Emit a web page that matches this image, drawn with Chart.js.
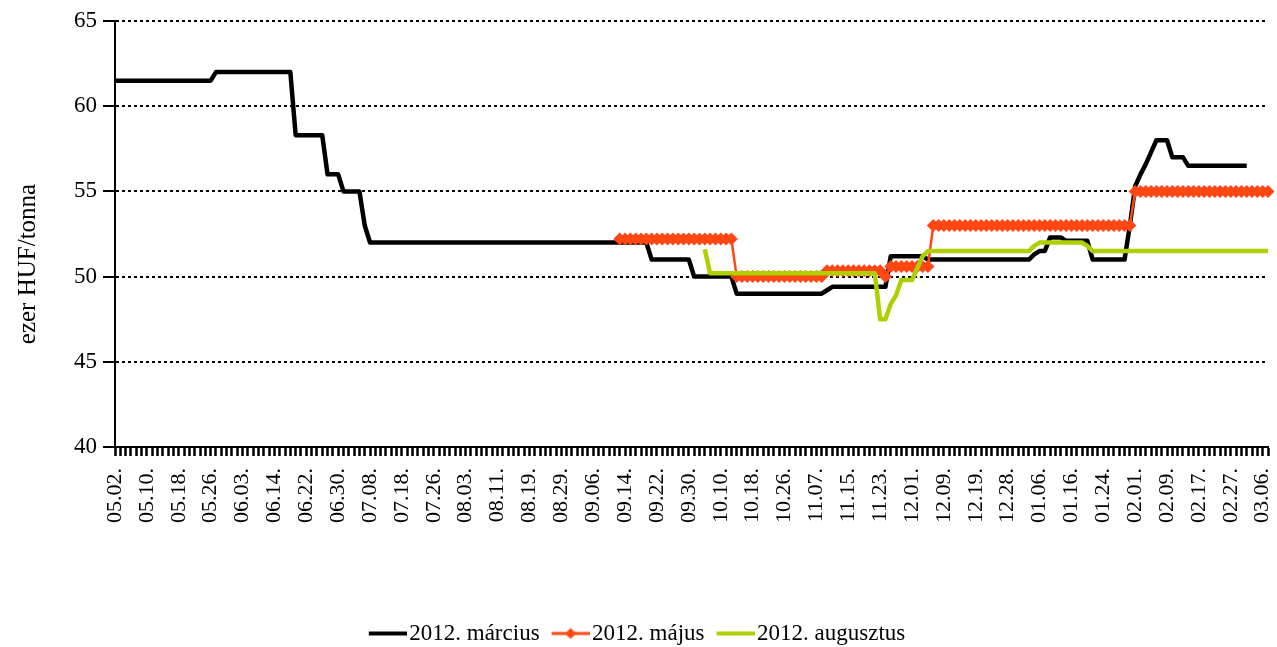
<!DOCTYPE html>
<html><head><meta charset="utf-8">
<script src="https://cdn.jsdelivr.net/npm/chart.js@4.4.0/dist/chart.umd.min.js"></script>
<style>html,body{margin:0;padding:0;background:#fff}#wrap{width:1277px;height:647px}</style>
</head><body><div id="wrap"><canvas id="c" width="1277" height="647"></canvas></div>
<script>
const tickLabels = ['05.02.','05.10.','05.18.','05.26.','06.03.','06.14.','06.22.','06.30.','07.08.','07.18.',
  '07.26.','08.03.','08.11.','08.19.','08.29.','09.06.','09.14.','09.22.','09.30.','10.10.',
  '10.18.','10.26.','11.07.','11.15.','11.23.','12.01.','12.09.','12.19.','12.28.','01.06.',
  '01.16.','01.24.','02.01.','02.09.','02.17.','02.27.','03.06.'];
const labelStep = 6;
const categoryCount = 218;
const seriesNames = ['2012. március', '2012. május', '2012. augusztus'];
const yAxisTitle = 'ezer HUF/tonna';

const marcius = [
  61.5,61.5,61.5,61.5,61.5,61.5,61.5,61.5,61.5,61.5,
  61.5,61.5,61.5,61.5,61.5,61.5,61.5,61.5,61.5,
  62,62,62,62,62,62,62,62,62,62,62,62,62,62,62,
  58.3,58.3,58.3,58.3,58.3,58.3,
  56,56,56,
  55,55,55,55,
  53,
  52,52,52,52,52,52,52,52,52,52,
  52,52,52,52,52,52,52,52,52,52,
  52,52,52,52,52,52,52,52,52,52,
  52,52,52,52,52,52,52,52,52,52,
  52,52,52,52,52,52,52,52,52,52,
  52,52,52,
  51,51,51,51,51,51,51,51,
  50,50,50,50,50,50,50,50,
  49,49,49,49,49,49,49,49,49,49,49,49,49,49,49,49,49,
  49.2,
  49.4,49.4,49.4,49.4,49.4,49.4,49.4,49.4,49.4,49.4,49.4,
  51.2,51.2,51.2,51.2,51.2,51.2,51.2,
  51,51,51,51,51,51,51,51,51,51,51,51,51,51,51,51,51,51,51,51,
  51.3,
  51.5,51.5,
  52.3,52.3,52.3,
  52.1,52.1,52.1,52.1,52.1,
  51,51,51,51,51,51,51,
  53,55.3,56,56.6,57.3,
  58,58,58,
  57,57,57,
  56.5,56.5,56.5,56.5,56.5,56.5,56.5,56.5,56.5,56.5,56.5,56.5,
  null,null,null,null
];

const majus = [
  null,null,null,null,null,null,null,null,null,null,
  null,null,null,null,null,null,null,null,null,null,
  null,null,null,null,null,null,null,null,null,null,
  null,null,null,null,null,null,null,null,null,null,
  null,null,null,null,null,null,null,null,null,null,
  null,null,null,null,null,null,null,null,null,null,
  null,null,null,null,null,null,null,null,null,null,
  null,null,null,null,null,null,null,null,null,null,
  null,null,null,null,null,null,null,null,null,null,
  null,null,null,null,null,
  52.2,52.2,52.2,52.2,52.2,52.2,52.2,52.2,52.2,52.2,52.2,
  52.2,52.2,52.2,52.2,52.2,52.2,52.2,52.2,52.2,52.2,52.2,
  50,50,50,50,50,50,50,50,50,50,50,50,50,50,50,50,50,
  50.35,50.35,50.35,50.35,50.35,50.35,50.35,50.35,50.35,50.35,50.35,
  50,
  50.6,50.6,50.6,50.6,50.6,50.6,50.6,50.6,
  53,53,53,53,53,53,53,53,53,53,
  53,53,53,53,53,53,53,53,53,53,
  53,53,53,53,53,53,53,53,53,53,
  53,53,53,53,53,53,53,53,
  55,55,55,55,55,55,55,55,55,55,
  55,55,55,55,55,55,55,55,55,55,
  55,55,55,55,55,55
];

const augusztus = [
  null,null,null,null,null,null,null,null,null,null,
  null,null,null,null,null,null,null,null,null,null,
  null,null,null,null,null,null,null,null,null,null,
  null,null,null,null,null,null,null,null,null,null,
  null,null,null,null,null,null,null,null,null,null,
  null,null,null,null,null,null,null,null,null,null,
  null,null,null,null,null,null,null,null,null,null,
  null,null,null,null,null,null,null,null,null,null,
  null,null,null,null,null,null,null,null,null,null,
  null,null,null,null,null,null,null,null,null,null,
  null,null,null,null,null,null,null,null,null,null,
  null,
  51.6,
  50.2,50.2,50.2,50.2,50.2,50.2,50.2,50.2,50.2,50.2,
  50.2,50.2,50.2,50.2,50.2,50.2,50.2,50.2,50.2,50.2,
  50.2,50.2,50.2,50.2,50.2,50.2,50.2,50.2,50.2,50.2,
  50.2,50.2,
  47.5,47.5,
  48.4,
  48.9,
  49.8,49.8,49.8,
  50.5,
  51.2,
  51.5,51.5,51.5,51.5,51.5,51.5,51.5,51.5,51.5,51.5,
  51.5,51.5,51.5,51.5,51.5,51.5,51.5,51.5,51.5,51.5,
  51.8,
  52,52,52,52,52,52,52,52,52,
  51.8,
  51.5,51.5,51.5,51.5,51.5,51.5,51.5,51.5,51.5,51.5,
  51.5,51.5,51.5,51.5,51.5,51.5,51.5,51.5,51.5,51.5,
  51.5,51.5,51.5,51.5,51.5,51.5,51.5,51.5,51.5,51.5,
  51.5,51.5,51.5,51.5
];

[marcius, majus, augusztus].forEach((a, k) => {
  if (a.length !== categoryCount) throw new Error('series ' + k + ' length ' + a.length);
});

const categories = [];
for (let i = 0; i < categoryCount; i++) {
  categories.push(i % labelStep === 0 ? (tickLabels[i / labelStep] || '') : '');
}

const COL_BLACK = '#000000';
const COL_ORANGE = '#FF4713';
const COL_GREEN = '#AFCF00';
const FONT = '"Liberation Serif", "Times New Roman", serif';

function legendSample(color, withDiamond) {
  const cv = document.createElement('canvas');
  cv.width = 53; cv.height = 16;
  const g = cv.getContext('2d');
  g.strokeStyle = color;
  g.lineWidth = withDiamond ? 3 : 4;
  g.beginPath(); g.moveTo(15, 8); g.lineTo(53, 8); g.stroke();
  if (withDiamond) {
    g.fillStyle = color;
    g.beginPath(); g.moveTo(34, 2.5); g.lineTo(39.5, 8); g.lineTo(34, 13.5); g.lineTo(28.5, 8); g.closePath(); g.fill();
  }
  return cv;
}
const legendImages = [legendSample(COL_BLACK, false), legendSample(COL_ORANGE, true), legendSample(COL_GREEN, false)];

const yTitlePlugin = {
  id: 'yTitlePlugin',
  afterDraw(chart) {
    const ctx = chart.ctx;
    ctx.save();
    ctx.translate(28, 264);
    ctx.rotate(-Math.PI / 2);
    ctx.font = '25px ' + FONT;
    ctx.fillStyle = '#000';
    ctx.textAlign = 'center';
    ctx.textBaseline = 'middle';
    ctx.fillText(yAxisTitle, 0, 0);
    ctx.restore();
  }
};

const legendShiftPlugin = {
  id: 'legendShiftPlugin',
  afterLayout(chart) {
    if (chart.legend) { chart.legend.top += 8; chart.legend.bottom += 8; }
  }
};

new Chart(document.getElementById('c'), {
  type: 'line',
  data: {
    labels: categories,
    datasets: [
      { label: seriesNames[0], data: marcius, borderColor: COL_BLACK, backgroundColor: COL_BLACK,
        borderWidth: 4.5, pointRadius: 0, tension: 0, order: 3, borderJoinStyle: 'round' },
      { label: seriesNames[1], data: majus, borderColor: COL_ORANGE, backgroundColor: COL_ORANGE,
        borderWidth: 2.5, pointRadius: 6.5, pointStyle: 'rectRot', pointBorderWidth: 0,
        pointBackgroundColor: COL_ORANGE, tension: 0, order: 2 },
      { label: seriesNames[2], data: augusztus, borderColor: COL_GREEN, backgroundColor: COL_GREEN,
        borderWidth: 4.5, pointRadius: 0, tension: 0, order: 1, borderJoinStyle: 'round' }
    ]
  },
  options: {
    responsive: false,
    animation: false,
    devicePixelRatio: 1,
    layout: { padding: { top: 21, right: 9, left: 0, bottom: 0 } },
    plugins: {
      tooltip: { enabled: false },
      legend: {
        position: 'bottom',
        labels: {
          usePointStyle: true,
          pointStyleWidth: 35,
          padding: 6,
          color: '#000',
          font: { family: FONT, size: 23, lineHeight: 1 },
          sort: (a, b) => a.datasetIndex - b.datasetIndex,
          generateLabels(chart) {
            const items = Chart.defaults.plugins.legend.labels.generateLabels(chart);
            items.forEach(it => { it.pointStyle = legendImages[it.datasetIndex]; });
            return items;
          }
        }
      }
    },
    scales: {
      x: {
        offset: false,
        grid: { display: true, drawOnChartArea: false, drawTicks: true, tickLength: 9,
                tickWidth: 2.5, color: '#000', offset: false },
        border: { display: true, color: '#000', width: 2 },
        ticks: { autoSkip: false, maxRotation: 90, minRotation: 90, color: '#000', padding: 12,
                 font: { family: FONT, size: 22 } },
        afterFit(scale) { scale.height = 161; scale.paddingRight = 0; scale.paddingLeft = 0; }
      },
      y: {
        min: 40, max: 65,
        ticks: { stepSize: 5, color: '#000', padding: 6, font: { family: FONT, size: 23 } },
        grid: { color: '#000', lineWidth: 2, tickLength: 12, tickWidth: 2, tickBorderDash: [], drawTicks: true },
        border: { display: true, color: '#000', width: 2, dash: [3, 3] },
        afterFit(scale) { scale.width = 115; }
      }
    }
  },
  plugins: [yTitlePlugin, legendShiftPlugin]
});
</script></body></html>
